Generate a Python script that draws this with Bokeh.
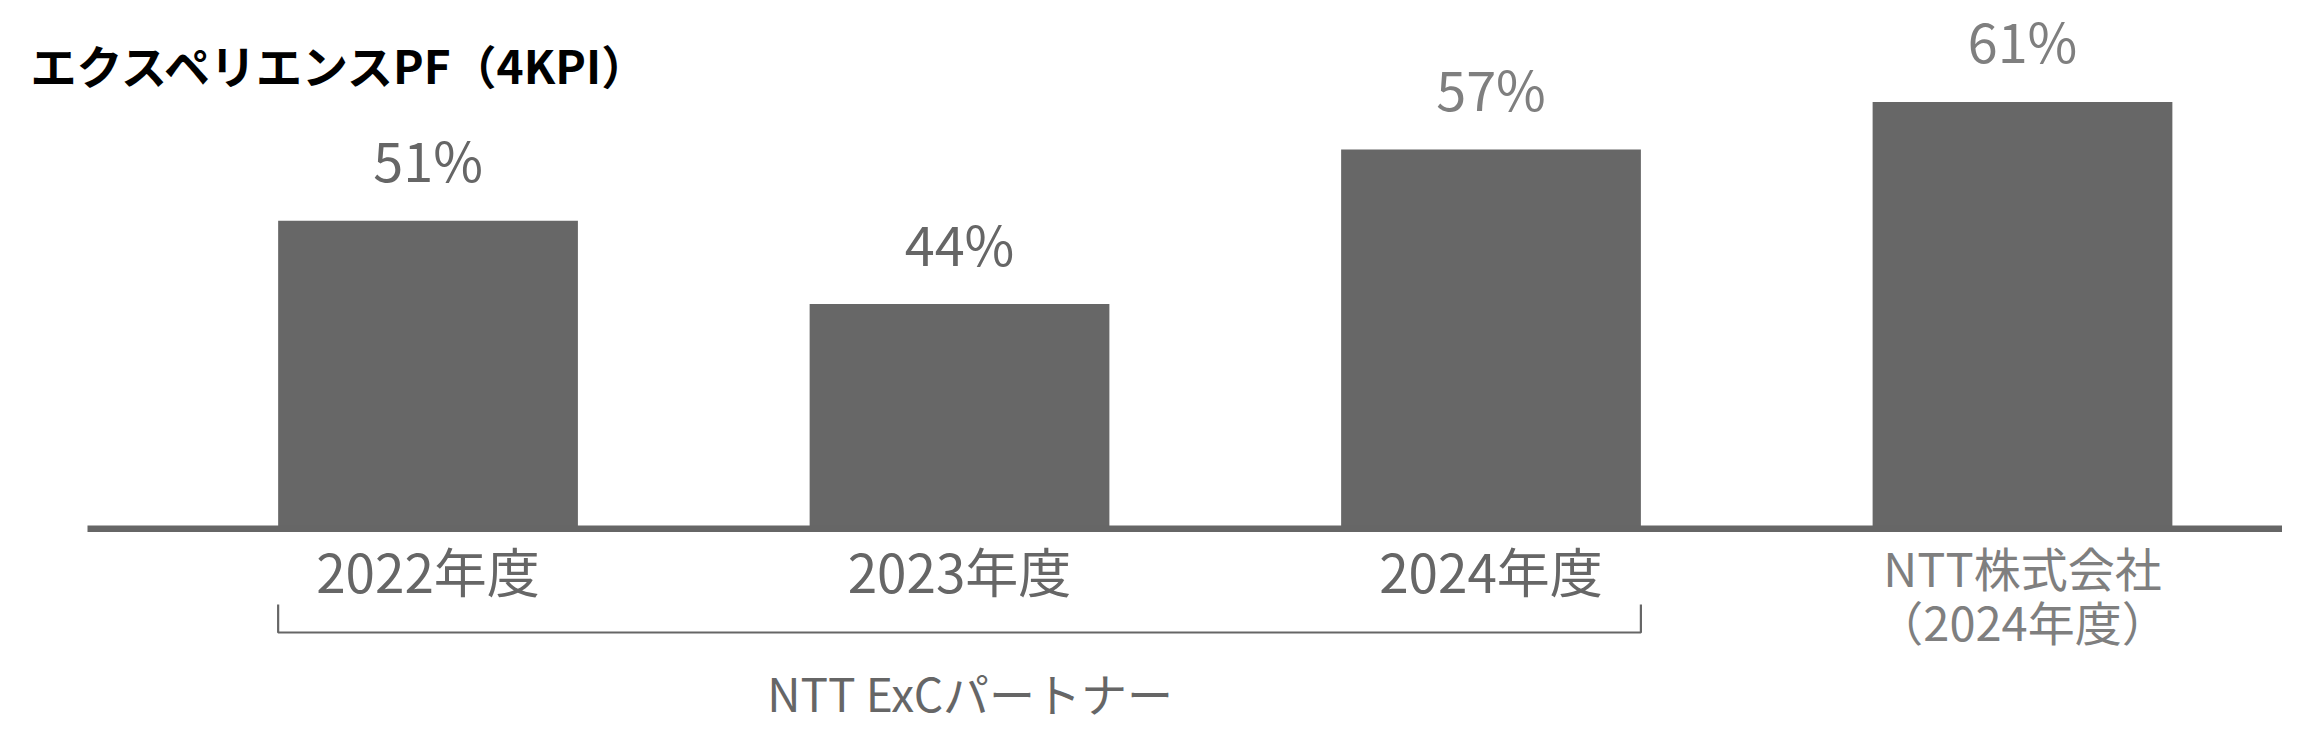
from bokeh.plotting import figure
from bokeh.models import Range1d, ColumnDataSource
from bokeh.core.properties import value
from bokeh.embed import file_html
from bokeh.resources import INLINE

# ---- data ----
title_text = "エクスペリエンスPF（4KPI）"
categories = ["2022年度", "2023年度", "2024年度", "NTT株式会社\n（2024年度）"]
scores = [51, 44, 57, 61]
score_labels = ["51%", "44%", "57%", "61%"]
group_label = "NTT ExCパートナー"
group_members = 3          # first three categories are NTT ExC partner years
axis_min = 25.1            # hidden value axis starts here (bars are not from 0)

# ---- styles ----
FONT = "Noto Sans CJK JP"
BAR_COLOR = "#676767"
label_colors = ["#666666", "#666666", "#7f7f7f", "#7f7f7f"]

W, H = 2282, 739
XR = (-0.8044, 3.4892)
YR = (7.38, 69.53)

def dx(px):
    return XR[0] + px * (XR[1] - XR[0]) / W

def dy(py):
    return YR[1] - py * (YR[1] - YR[0]) / H

p = figure(width=W, height=H, output_backend="svg", toolbar_location=None,
           x_range=Range1d(*XR), y_range=Range1d(*YR), min_border=0,
           outline_line_color=None, background_fill_color="white",
           border_fill_color="white")
p.axis.visible = False
p.grid.visible = False

idx = list(range(len(categories)))
bar_w = 0.564

src = ColumnDataSource(dict(x=idx, top=scores, lab=score_labels, lc=label_colors))

p.vbar(x="x", top="top", bottom=axis_min, width=bar_w, source=src,
       fill_color=BAR_COLOR, line_color=None)

# baseline (category axis line)
p.segment(x0=[dx(87)], y0=[axis_min], x1=[XR[1]], y1=[axis_min],
          line_color="#666666", line_width=6.5)

# value labels above bars
p.text(x="x", y="top", text="lab", source=src, text_color="lc",
       text_font=value(FONT), text_font_size="54px", text_align="center",
       text_baseline="alphabetic", y_offset=-62)

# category labels
src_a = ColumnDataSource(dict(x=idx[:3], y=[axis_min] * 3, t=categories[:3]))
p.text(x="x", y="y", text="t", source=src_a, text_color="#666666",
       text_font=value(FONT), text_font_size="53px", text_align="center",
       text_baseline="alphabetic", y_offset=41)
src_b = ColumnDataSource(dict(x=idx[3:], y=[axis_min], t=categories[3:]))
p.text(x="x", y="y", text="t", source=src_b, text_color="#7f7f7f",
       text_font=value(FONT), text_font_size="47px", text_align="center",
       text_baseline="top", y_offset=3, text_line_height=0.78)

# bracket under the NTT ExC partner years
bx0 = idx[0] - bar_w / 2
bx1 = idx[group_members - 1] + bar_w / 2
ytick = dy(604)
ybar = dy(632)
p.line(x=[bx0, bx0, bx1, bx1], y=[ytick, ybar, ybar, ytick],
       line_color="#666666", line_width=2.2)
p.text(x=[(bx0 + bx1) / 2 + 0.02], y=[axis_min], text=[group_label],
       text_color="#666666", text_font=value(FONT), text_font_size="46px",
       text_align="center", text_baseline="alphabetic", y_offset=163)

# title
p.text(x=[XR[0]], y=[YR[1]], text=[title_text], text_color="#000000",
       text_font=value(FONT), text_font_size="46px", text_font_style="bold",
       text_align="left", text_baseline="alphabetic", x_offset=30, y_offset=63)

open("out.html", "w").write(file_html(p, INLINE))
